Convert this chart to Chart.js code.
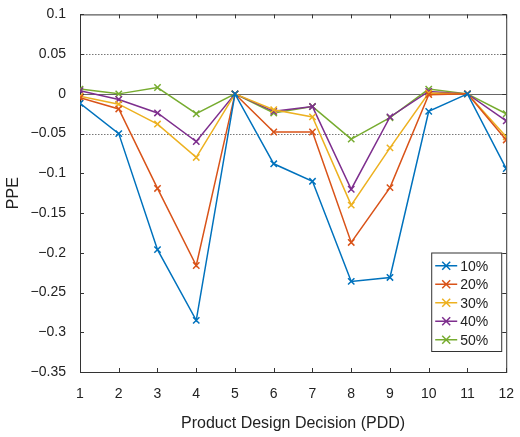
<!DOCTYPE html>
<html>
<head>
<script src="https://cdn.jsdelivr.net/npm/chart.js@4"></script>
<style>
  body { margin: 0; background: #fff; }
  #wrap { width: 520px; height: 437px; }
</style>
</head>
<body>
<div id="wrap"><canvas id="c" width="520" height="437"></canvas></div>
<script>
// Product design decisions 1..12
const pdd = [1, 2, 3, 4, 5, 6, 7, 8, 9, 10, 11, 12];
const seriesNames = ['10%', '20%', '30%', '40%', '50%'];
const colors = ['#0072BD', '#D95319', '#EDB120', '#7E2F8E', '#77AC30'];
const s10 = [-0.012, -0.05, -0.196, -0.285, 0, -0.088, -0.11, -0.236, -0.231, -0.022, 0, -0.094];
const s20 = [-0.005, -0.019, -0.119, -0.216, 0, -0.048, -0.048, -0.187, -0.118, -0.001, 0, -0.058];
const s30 = [-0.003, -0.013, -0.038, -0.08, 0, -0.02, -0.029, -0.14, -0.068, 0.001, 0, -0.054];
const s40 = [0.004, -0.007, -0.024, -0.06, 0, -0.022, -0.016, -0.12, -0.029, 0.003, 0, -0.034];
const s50 = [0.006, 0, 0.008, -0.025, 0, -0.024, -0.016, -0.057, -0.03, 0.006, 0, -0.025];
const allSeries = [s10, s20, s30, s40, s50];
const refLines = [0.05, 0, -0.05];

const FONT = 'Liberation Sans, Arial, sans-serif';

// Frame, reference lines, inward ticks and the in-plot legend
const matlabLook = {
    id: 'matlabLook',
    beforeDatasetsDraw(chart) {
        const { ctx, chartArea: a, scales: { x, y } } = chart;
        ctx.save();
        refLines.forEach(v => {
            const py = Math.round(y.getPixelForValue(v)) + 0.5;
            ctx.strokeStyle = v === 0 ? '#666' : '#555';
            ctx.lineWidth = v === 0 ? 1 : 0.8;
            ctx.setLineDash(v === 0 ? [] : [1.5, 1.5]);
            ctx.beginPath();
            ctx.moveTo(a.left, py);
            ctx.lineTo(a.right, py);
            ctx.stroke();
        });
        ctx.setLineDash([]);
        ctx.strokeStyle = '#333';
        ctx.lineWidth = 1;
        ctx.strokeRect(a.left + 0.5, a.top + 0.5, a.right - a.left, a.bottom - a.top);
        ctx.beginPath();
        pdd.forEach(v => {
            const px = Math.round(x.getPixelForValue(v)) + 0.5;
            ctx.moveTo(px, a.bottom); ctx.lineTo(px, a.bottom - 4);
            ctx.moveTo(px, a.top); ctx.lineTo(px, a.top + 4);
        });
        for (let v = -0.35; v <= 0.1001; v += 0.05) {
            const py = Math.round(y.getPixelForValue(v)) + 0.5;
            ctx.moveTo(a.left, py); ctx.lineTo(a.left + 4, py);
            ctx.moveTo(a.right, py); ctx.lineTo(a.right - 4, py);
        }
        ctx.stroke();
        ctx.restore();
    },
    afterDraw(chart) {
        const { ctx, chartArea: a } = chart;
        const w = 70, rowH = 18.5, h = rowH * seriesNames.length + 6;
        const bx = a.right - w - 5, by = a.bottom - h - 21;
        ctx.save();
        ctx.fillStyle = '#fff';
        ctx.fillRect(bx, by, w, h);
        ctx.strokeStyle = '#333';
        ctx.lineWidth = 1;
        ctx.strokeRect(bx + 0.5, by + 0.5, w, h);
        ctx.font = '14px ' + FONT;
        ctx.textBaseline = 'middle';
        seriesNames.forEach((name, i) => {
            const cy = by + 4 + rowH * (i + 0.5);
            ctx.strokeStyle = colors[i];
            ctx.lineWidth = 1.5;
            ctx.beginPath();
            ctx.moveTo(bx + 4, cy); ctx.lineTo(bx + 26, cy);
            ctx.moveTo(bx + 11, cy - 4); ctx.lineTo(bx + 19, cy + 4);
            ctx.moveTo(bx + 11, cy + 4); ctx.lineTo(bx + 19, cy - 4);
            ctx.stroke();
            ctx.fillStyle = '#222';
            ctx.fillText(name, bx + 29, cy + 1);
        });
        ctx.restore();
    }
};

new Chart(document.getElementById('c'), {
    type: 'line',
    data: {
        datasets: allSeries.map((s, i) => ({
            label: seriesNames[i],
            data: s.map((v, j) => ({ x: pdd[j], y: v })),
            borderColor: colors[i],
            backgroundColor: colors[i],
            borderWidth: 1.5,
            pointStyle: 'crossRot',
            pointRadius: 4.5,
            pointBorderWidth: 1.5,
            tension: 0
        }))
    },
    options: {
        responsive: false,
        animation: false,
        layout: { padding: { top: 7, right: 10 } },
        plugins: { legend: { display: false }, tooltip: { enabled: false } },
        scales: {
            x: {
                type: 'linear', min: 1, max: 12,
                grid: { display: false },
                border: { display: false },
                ticks: { stepSize: 1, color: '#222', font: { family: FONT, size: 14 }, padding: 6 },
                title: { display: true, text: 'Product Design Decision (PDD)', color: '#222', font: { family: FONT, size: 16 }, padding: { top: 12 } },
                afterFit: s => { s.height = 65; }
            },
            y: {
                min: -0.35, max: 0.1,
                grid: { display: false },
                border: { display: false },
                ticks: {
                    stepSize: 0.05, color: '#222', font: { family: FONT, size: 14 }, padding: 6,
                    callback: v => {
                        const r = Math.round(v * 100) / 100;
                        return r === 0 ? '0' : String(r).replace('-', '\u2212').replace(/^(\u2212?)0\./, '$1' + '0.');
                    }
                },
                title: { display: true, text: 'PPE', color: '#222', font: { family: FONT, size: 16 } },
                afterFit: s => { s.width = 80; }
            }
        }
    },
    plugins: [matlabLook]
});
</script>
</body>
</html>
